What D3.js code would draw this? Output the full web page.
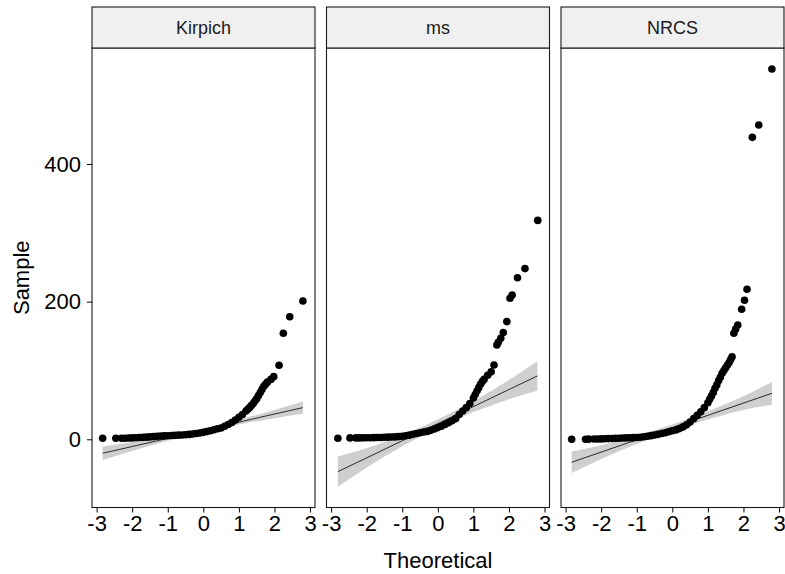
<!DOCTYPE html>
<html>
<head>
<meta charset="utf-8">
<script src="https://cdn.jsdelivr.net/npm/d3@7"></script>
<style>
  body { margin: 0; background: #fff; }
  text { font-family: "Liberation Sans", Arial, sans-serif; }
</style>
</head>
<body>
<script>
// QQ plot data (theoretical quantile vs sample value)
let panels = ["Kirpich", "ms", "NRCS"]

let kirpichTheo = [-2.83,-2.46,-2.3,-2.2,-2.1,-2.0,-1.9,-1.8,-1.7,-1.6,-1.5,-1.4,-1.3,-1.2,-1.1,-1.0,-0.9,-0.8,-0.7,-0.6,-0.5,-0.4,-0.3,-0.2,-0.1,0,0.1,0.2,0.3,0.4,0.5,0.6,0.7,0.8,0.9,1.0,1.1,1.2,1.25,1.3,1.35,1.4,1.45,1.5,1.55,1.6,1.65,1.7,1.75,1.8,1.9,1.98,2.13,2.25,2.43,2.8]
let kirpichSample = [1.5,1.5,1.5,1.6,1.8,2,2.2,2.5,2.8,3.1,3.5,3.9,4.3,4.6,4.9,5.1,5.4,5.7,6,6.3,6.7,7.1,7.7,8.4,9.2,10.1,11.2,12.4,13.8,15.4,16.5,19,21.5,24.5,28,32,36,41,43.5,46,49,52,55.5,59,63.5,68,72.5,77,80,83,87,91,107.5,154,178,201]

let msTheo = [-2.81,-2.47,-2.3,-2.2,-2.1,-2.0,-1.9,-1.8,-1.7,-1.6,-1.5,-1.4,-1.3,-1.2,-1.1,-1.0,-0.9,-0.8,-0.7,-0.6,-0.5,-0.4,-0.3,-0.2,-0.1,0,0.1,0.2,0.3,0.4,0.5,0.6,0.7,0.8,0.9,1.0,1.05,1.1,1.15,1.2,1.25,1.3,1.4,1.5,1.58,1.66,1.7,1.77,1.84,1.94,2.03,2.09,2.24,2.45,2.81]
let msSample = [1.5,2,2,2,2.1,2.2,2.3,2.4,2.5,2.7,2.9,3.1,3.3,3.5,3.9,4.5,5.2,6,7.3,8.5,9.5,10.5,11.5,13,15,17,19,21.5,24,27,30,36,41,46,52,60,65,70,75,80,84,87,93,98,108,137,141,146.7,155,171,205,209.6,234.8,248,318]

let nrcsTheo = [-2.83,-2.44,-2.35,-2.2,-2.1,-2.0,-1.9,-1.8,-1.7,-1.6,-1.5,-1.4,-1.3,-1.2,-1.1,-1.0,-0.9,-0.8,-0.7,-0.6,-0.5,-0.4,-0.3,-0.2,-0.1,0,0.1,0.2,0.3,0.4,0.5,0.6,0.7,0.8,0.9,1.0,1.05,1.1,1.15,1.2,1.25,1.3,1.35,1.4,1.45,1.5,1.55,1.6,1.64,1.68,1.73,1.78,1.84,1.95,2.03,2.1,2.25,2.43,2.8]
let nrcsSample = [0,0,0.2,0.4,0.5,0.6,0.8,1,1.2,1.4,1.6,1.8,2,2.2,2.4,2.6,3,3.8,4.5,5.3,6.2,7.2,8.4,9.6,11,12.3,13.5,15.5,18,21,25,30,35,40,46,53,58,63,68,74,79,85,90,96,100,104,108,112,116,120,154,160,166,189,202,218,438.7,456.6,538]

// reference line and 95% band, sampled at a few theoretical values
let bandTheo = [[-2.83,-2,-1,0,1,2,2.8], [-2.81,-2,-1,0,1,2,2.8], [-2.83,-2,-1,0,1,2,2.8]]
let kirpichLine = [-20.3,-10.5,1.3,13.1,24.9,36.7,46]
let kirpichLow  = [-30,-17,-2.2,10.6,21.4,30.7,37]
let kirpichHigh = [-10.6,-4,4.8,15.6,28.4,42.7,55]
let msLine = [-47,-27,-2.1,22.7,47.5,72.3,92]
let msLow  = [-69,-41,-10.1,16.7,39.5,58.3,70.5]
let msHigh = [-25,-13,5.9,28.7,55.5,86.3,113.5]
let nrcsLine = [-33.4,-18.6,-0.8,17,34.8,52.6,66.8]
let nrcsLow  = [-49.1,-28.6,-6.8,12.5,28.8,42.6,50.3]
let nrcsHigh = [-17.7,-8.6,5.2,21.5,40.8,62.6,83.3]

let xTicks = [-3, -2, -1, 0, 1, 2, 3]
let yTicks = [0, 200, 400]

let pts = [[kirpichTheo, kirpichSample], [msTheo, msSample], [nrcsTheo, nrcsSample]]
let lines = [[kirpichLine, kirpichLow, kirpichHigh], [msLine, msLow, msHigh], [nrcsLine, nrcsLow, nrcsHigh]]

let svg = d3.select("body").append("svg")
            .attr("width", 785)
            .attr("height", 574)

let plotTop = 48, plotBottom = 507.5, stripTop = 7
let panelW = 223, lefts = [92, 326.5, 561]

let y = d3.scaleLinear().domain([-99.1, 568.5]).range([plotBottom, plotTop])

lefts.forEach((left, i) => {
  let x = d3.scaleLinear().domain([-3.13, 3.14]).range([left, left + panelW])
  let g = svg.append("g")

  // confidence band
  let band = bandTheo[i].map((t, j) => ({ t: t, lo: lines[i][1][j], hi: lines[i][2][j], m: lines[i][0][j] }))
  g.append("path")
   .datum(band)
   .attr("fill", "#cfcfcf")
   .attr("d", d3.area().curve(d3.curveMonotoneX).x(d => x(d.t)).y0(d => y(d.lo)).y1(d => y(d.hi)))

  g.append("path")
   .datum(band)
   .attr("fill", "none")
   .attr("stroke", "#000")
   .attr("stroke-width", 0.8)
   .attr("d", d3.line().x(d => x(d.t)).y(d => y(d.m)))

  // sample points
  g.selectAll("circle")
   .data(pts[i][0].map((t, j) => [t, pts[i][1][j]]))
   .enter()
   .append("circle")
   .attr("cx", d => x(d[0]))
   .attr("cy", d => y(d[1]))
   .attr("r", 3.8)
   .attr("fill", "#000")

  // panel border
  g.append("rect")
   .attr("x", left).attr("y", plotTop)
   .attr("width", panelW).attr("height", plotBottom - plotTop)
   .attr("fill", "none").attr("stroke", "#1a1a1a").attr("stroke-width", 1.1)

  // facet strip
  g.append("rect")
   .attr("x", left).attr("y", stripTop)
   .attr("width", panelW).attr("height", plotTop - stripTop)
   .attr("fill", "#f0f0f0").attr("stroke", "#1a1a1a").attr("stroke-width", 1.1)
  g.append("text")
   .attr("x", left + panelW / 2).attr("y", (stripTop + plotTop) / 2)
   .attr("dy", "0.35em")
   .attr("text-anchor", "middle")
   .attr("font-size", 18)
   .attr("fill", "#1a1a1a")
   .text(panels[i])

  // x axis
  let ax = svg.append("g")
              .attr("transform", `translate(0, ${plotBottom})`)
              .call(d3.axisBottom(x).tickValues(xTicks).tickSize(5).tickPadding(3).tickFormat(d => String(d)))
  ax.select(".domain").remove()
  ax.selectAll("text").attr("font-size", 22).attr("fill", "#000").style("font-family", "Liberation Sans, Arial, sans-serif")
  ax.selectAll("line").attr("stroke", "#000")
})

// y axis on the first panel only
let ay = svg.append("g")
            .attr("transform", `translate(${lefts[0]}, 0)`)
            .call(d3.axisLeft(y).tickValues(yTicks).tickSize(5).tickPadding(6))
ay.select(".domain").remove()
ay.selectAll("text").attr("font-size", 22).attr("fill", "#000").style("font-family", "Liberation Sans, Arial, sans-serif")
ay.selectAll("line").attr("stroke", "#000")

// axis titles
svg.append("text")
   .attr("x", lefts[1] + panelW / 2).attr("y", 568)
   .attr("text-anchor", "middle")
   .attr("font-size", 22)
   .attr("fill", "#000")
   .text("Theoretical")

svg.append("text")
   .attr("transform", `translate(29, ${(plotTop + plotBottom) / 2}) rotate(-90)`)
   .attr("text-anchor", "middle")
   .attr("font-size", 22)
   .attr("fill", "#000")
   .text("Sample")
</script>
</body>
</html>
